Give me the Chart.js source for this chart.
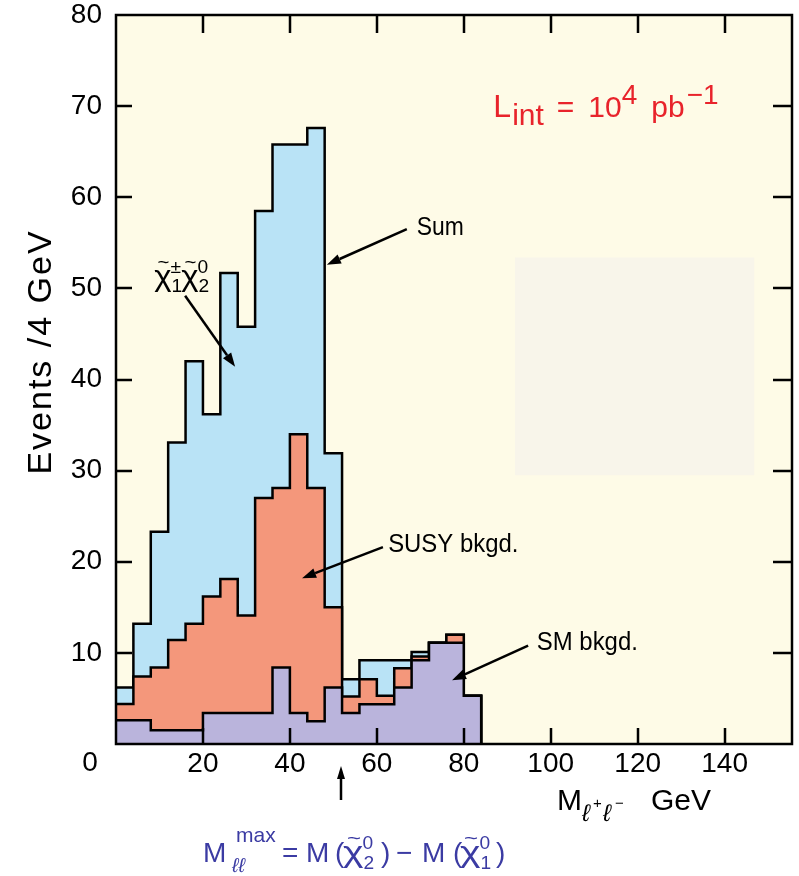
<!DOCTYPE html>
<html><head><meta charset="utf-8">
<script src="https://cdn.jsdelivr.net/npm/chart.js@4.4.0/dist/chart.umd.min.js"></script>
<style>html,body{margin:0;padding:0;background:#fff;} canvas{display:block;}</style>
</head><body>
<canvas id="c" width="799" height="876"></canvas>
<script>
// ---- data ----
const binLow = [0,4,8,12,16,20,24,28,32,36,40,44,48,52,56,60,64,68,72,76,80];
const binWidth = 4;
const sumTop  = [6.2,13.2,23.3,33.1,42.0,36.2,51.7,45.8,58.5,65.8,65.8,67.6,31.9,7.1,9.2,9.2,9.2,10.1,11.1,12.0,5.3];
const susyTop = [4.4,7.4,8.4,11.4,13.2,16.2,18.1,14.1,27.0,28.1,34.0,28.1,15.0,5.2,7.1,5.3,8.3,9.6,11.1,12.0,5.3];
const smTop   = [2.6,2.6,1.5,1.5,1.5,3.4,3.4,3.4,3.4,8.4,3.4,2.5,6.2,3.4,4.35,4.35,6.2,9.2,11.1,11.1,5.3];
const xTickValues = [0,20,40,60,80,100,120,140];
const yTickValues = [0,10,20,30,40,50,60,70,80];
const mllMaxEdge = 52;

function stepData(tops){
  const pts = binLow.map((x,i)=>({x:x, y:tops[i]}));
  pts.push({x: binLow[binLow.length-1]+binWidth, y: 0});
  return pts;
}
const FONT = '"Liberation Sans", Arial, sans-serif';

function txt(ctx, s, x, y, size, color, sx, style){
  ctx.save();
  ctx.font = (style||'') + ' ' + size + 'px ' + FONT;
  ctx.fillStyle = color; ctx.textBaseline = 'alphabetic'; ctx.textAlign='left';
  ctx.translate(x, y); ctx.scale(sx||1, 1);
  ctx.fillText(s, 0, 0);
  const w = ctx.measureText(s).width * (sx||1);
  ctx.restore();
  return w;
}
function arrow(ctx, x1, y1, x2, y2, head, hw){
  ctx.save();
  ctx.strokeStyle='#000'; ctx.fillStyle='#000'; ctx.lineWidth=2.5;
  const ang = Math.atan2(y2-y1, x2-x1);
  const bx = x2 - head*Math.cos(ang), by = y2 - head*Math.sin(ang);
  ctx.beginPath(); ctx.moveTo(x1,y1); ctx.lineTo(bx,by); ctx.stroke();
  ctx.beginPath(); ctx.moveTo(x2,y2);
  ctx.lineTo(bx + hw*Math.sin(ang), by - hw*Math.cos(ang));
  ctx.lineTo(bx - hw*Math.sin(ang), by + hw*Math.cos(ang));
  ctx.closePath(); ctx.fill();
  ctx.restore();
}
function chi(ctx, x, y, size, color, sup, sub, sx){
  sx = sx || 1;
  const w = txt(ctx, 'χ', x, y, size, color, sx);
  txt(ctx, '~', x+size*0.1*sx, y-size*0.6, size*0.62, color, sx);
  const s1 = txt(ctx, sup, x+w-1, y-size*0.42, size*0.64, color);
  const s2 = txt(ctx, sub, x+w, y+size*0.22, size*0.64, color);
  return w + Math.max(s1,s2);
}

const deco = {
  id:'deco',
  beforeDatasetsDraw(chart){
    const {ctx, chartArea:a, scales:{x,y}} = chart;
    ctx.save();
    ctx.fillStyle = '#fefbe7';
    ctx.fillRect(a.left, a.top, a.right-a.left, a.bottom-a.top);
    ctx.fillStyle = '#f8f5ea';
    const rx1 = x.getPixelForValue(91.8), rx2 = x.getPixelForValue(146.8);
    const ry1 = y.getPixelForValue(53.4), ry2 = y.getPixelForValue(29.5);
    ctx.fillRect(rx1, ry1, rx2-rx1, ry2-ry1);
    ctx.restore();
  },
  afterDatasetsDraw(chart){
    const {ctx, chartArea:a, scales:{x,y}} = chart;
    ctx.save();
    ctx.strokeStyle='#000'; ctx.lineWidth=2.5;
    ctx.beginPath();
    xTickValues.filter(v=>v>0).forEach(v=>{
      const px = Math.round(x.getPixelForValue(v));
      ctx.moveTo(px, a.bottom); ctx.lineTo(px, a.bottom-16);
      ctx.moveTo(px, a.top); ctx.lineTo(px, a.top+18);
    });
    yTickValues.filter(v=>v>0 && v<80).forEach(v=>{
      const py = Math.round(y.getPixelForValue(v));
      ctx.moveTo(a.left, py); ctx.lineTo(a.left+16, py);
      ctx.moveTo(a.right, py); ctx.lineTo(a.right-19, py);
    });
    ctx.stroke();
    ctx.lineWidth = 2.5;
    ctx.strokeRect(a.left, a.top, a.right-a.left, a.bottom-a.top);
    ctx.restore();

    const X = v=>x.getPixelForValue(v), Y = v=>y.getPixelForValue(v);
    txt(ctx, 'Sum', X(69.2), Y(55.9), 26, '#000', 0.88);
    arrow(ctx, X(66.9), Y(56.5), X(48.5), Y(52.6), 14, 5);
    txt(ctx, 'SUSY bkgd.', X(62.6), Y(21.1), 26, '#000', 0.92);
    arrow(ctx, X(61.4), Y(21.6), X(42.8), Y(18.2), 14, 5);
    txt(ctx, 'SM bkgd.', X(96.8), Y(10.3), 26, '#000', 0.92);
    arrow(ctx, X(94.8), Y(10.8), X(77.3), Y(7.0), 14, 5);
    let cx = X(8.8), cy = Y(50.3);
    cx += chi(ctx, cx, cy, 30, '#000', '±', '1', 1.1);
    chi(ctx, cx - 1, cy, 30, '#000', '0', '2', 1.1);
    arrow(ctx, X(15.9), Y(49.2), X(27.4), Y(41.4), 14, 5);

    const red = '#e8232b';
    let lx = X(86.8), ly = Y(68.8);
    lx += txt(ctx, 'L', lx, ly, 32, red);
    lx += txt(ctx, 'int', lx+1, ly+8, 30, red) + 14;
    lx += txt(ctx, '=', lx, ly, 30, red) + 14;
    lx += txt(ctx, '10', lx, ly, 30, red);
    lx += txt(ctx, '4', lx, ly-13, 28, red) + 14;
    lx += txt(ctx, 'pb', lx, ly, 30, red);
    txt(ctx, '−1', lx+2, ly-13, 28, red);

    ctx.save();
    ctx.font = '28px ' + FONT; ctx.fillStyle='#000'; ctx.textAlign='center'; ctx.textBaseline='middle';
    ctx.fillText('0', a.left-26, a.bottom+19);
    ctx.restore();

    ctx.save();
    ctx.translate(42, 352);
    ctx.rotate(-Math.PI/2);
    ctx.font = '34px ' + FONT; ctx.fillStyle='#000'; ctx.textAlign='center'; ctx.textBaseline='middle';
    ctx.letterSpacing = '2px';
    ctx.fillText('Events /4 GeV', 0, 0);
    ctx.restore();

    let tx = 557, tb = 810;
    tx += txt(ctx, 'M', tx, tb, 30, '#000');
    txt(ctx, 'ℓ', tx, tb+11, 24, '#000', 1, 'italic');
    txt(ctx, '+', tx+11, tb-2, 15, '#000');
    txt(ctx, 'ℓ', tx+21, tb+11, 24, '#000', 1, 'italic');
    txt(ctx, '−', tx+33, tb-2, 15, '#000');
    txt(ctx, 'GeV', 651, tb, 30, '#000');

    const mx = Math.round(X(mllMaxEdge)) - 1;
    arrow(ctx, mx, 800, mx, 766, 13, 4);

    // formula
    const blue = '#3b3ba3', fb = 862;
    txt(ctx, 'M', 203, fb, 28, blue);
    txt(ctx, 'max', 236, fb-20, 21, blue);
    txt(ctx, 'ℓℓ', 232, fb+10, 20, blue, 1, 'italic');
    txt(ctx, '=', 282, fb, 28, blue);
    txt(ctx, 'M', 306, fb, 28, blue);
    txt(ctx, '(', 335, fb, 28, blue);
    chi(ctx, 343, fb, 30, blue, '0', '2', 1.3);
    txt(ctx, ')', 381, fb, 28, blue);
    txt(ctx, '−', 396, fb, 28, blue);
    txt(ctx, 'M', 422, fb, 28, blue);
    txt(ctx, '(', 453, fb, 28, blue);
    chi(ctx, 460, fb, 30, blue, '0', '1', 1.3);
    txt(ctx, ')', 496, fb, 28, blue);
  }
};

const common = {borderColor:'#000', borderWidth:2.5, fill:'origin', stepped:'before', pointRadius:0, tension:0};
new Chart(document.getElementById('c'), {
  type:'line',
  data:{ datasets:[
    Object.assign({label:'SM bkgd.', data: stepData(smTop), backgroundColor:'#bab4dc'}, common),
    Object.assign({label:'SUSY bkgd.', data: stepData(susyTop), backgroundColor:'#f4977b'}, common),
    Object.assign({label:'Sum', data: stepData(sumTop), backgroundColor:'#b9e3f6'}, common)
  ]},
  options:{
    responsive:false, animation:false, devicePixelRatio:1,
    layout:{padding:{left:0,right:7,top:15,bottom:0}},
    plugins:{legend:{display:false}, tooltip:{enabled:false}},
    scales:{
      x:{type:'linear', min:0, max:155.5,
        afterBuildTicks: s=>{ s.ticks = xTickValues.map(v=>({value:v})); },
        ticks:{callback:v=> v===0 ? '' : String(v), font:{family:FONT, size:28}, color:'#000', padding:3, maxRotation:0, autoSkip:false},
        grid:{display:false, drawTicks:false}, border:{display:false},
        afterFit: s=>{ s.height = 132; s.paddingLeft = 0; s.paddingRight = 0; }
      },
      y:{type:'linear', min:0, max:80,
        afterBuildTicks: s=>{ s.ticks = yTickValues.map(v=>({value:v})); },
        ticks:{callback:v=> v===0 ? '' : String(v), font:{family:FONT, size:28}, color:'#000', padding:14, autoSkip:false},
        grid:{display:false, drawTicks:false}, border:{display:false},
        afterFit: s=>{ s.width = 116; s.paddingTop = 0; s.paddingBottom = 0; }
      }
    }
  },
  plugins:[deco]
});
</script>
</body></html>
